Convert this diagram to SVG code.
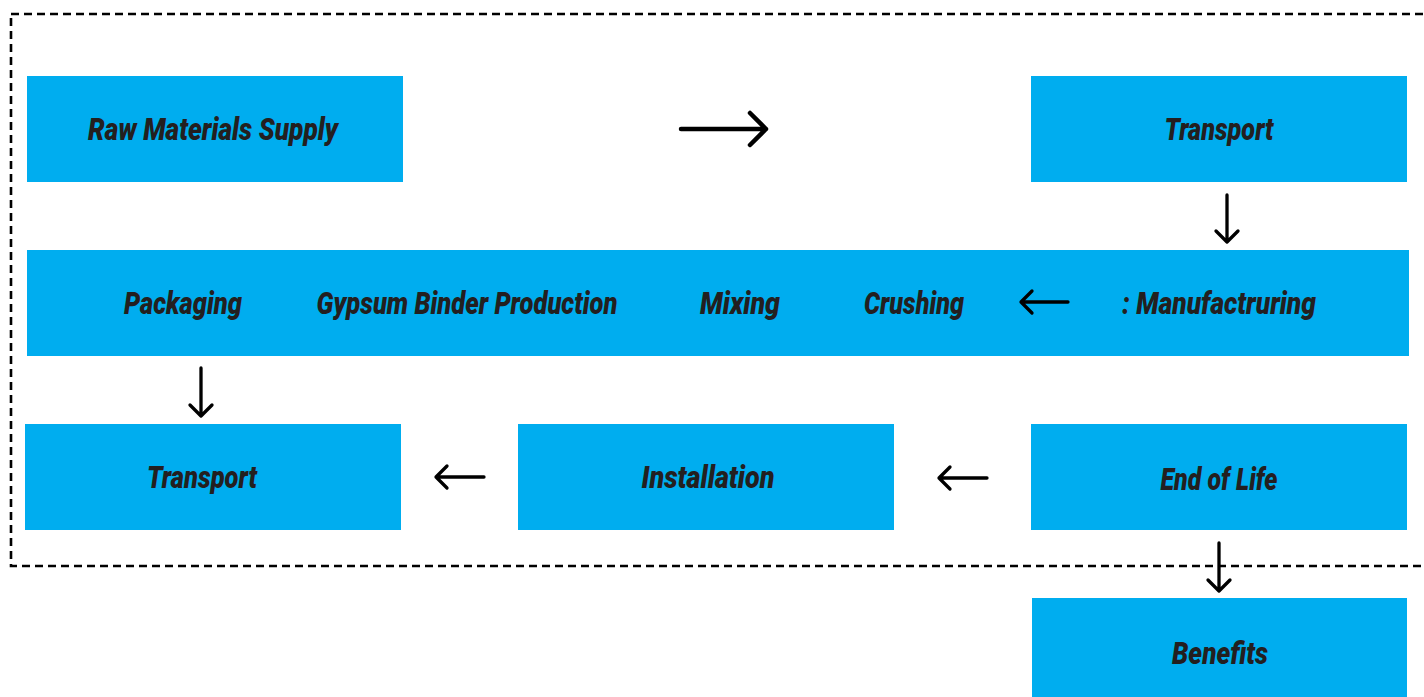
<svg xmlns="http://www.w3.org/2000/svg" width="1424" height="697" viewBox="0 0 1424 697">
  <style>
    .box { fill: #00adef; }
    .lbl { font-family: Roboto, "Liberation Sans", sans-serif; font-weight: 900; font-style: italic; font-size: 31px; fill: #231f20; text-anchor: middle; }
    .arr { fill: none; stroke: #000; stroke-width: 3.3; stroke-linecap: round; stroke-linejoin: round; }
    .arr-big { stroke-width: 4.5; }
    .frame { fill: none; stroke: #000; stroke-width: 2.6; stroke-dasharray: 8 5; }
  </style>

  <rect width="1424" height="697" fill="#ffffff"/>

  <!-- dashed boundary around the production system -->
  <rect class="frame" x="11" y="14" width="1430" height="552"/>

  <g id="raw-materials">
    <rect class="box" x="27" y="76" width="376" height="106"/>
    <text class="lbl" x="213" y="140" textLength="250" lengthAdjust="spacingAndGlyphs">Raw Materials Supply</text>
  </g>

  <g id="transport-in">
    <rect class="box" x="1031" y="76" width="376" height="106"/>
    <text class="lbl" x="1219" y="140" textLength="109" lengthAdjust="spacingAndGlyphs">Transport</text>
  </g>

  <g id="manufacturing">
    <rect class="box" x="27" y="250" width="1382" height="106"/>
    <text class="lbl" x="183" y="314" textLength="118" lengthAdjust="spacingAndGlyphs">Packaging</text>
    <text class="lbl" x="467" y="314" textLength="301" lengthAdjust="spacingAndGlyphs">Gypsum Binder Production</text>
    <text class="lbl" x="740" y="314" textLength="80" lengthAdjust="spacingAndGlyphs">Mixing</text>
    <text class="lbl" x="914" y="314" textLength="100" lengthAdjust="spacingAndGlyphs">Crushing</text>
    <text class="lbl" x="1219" y="314" textLength="194" lengthAdjust="spacingAndGlyphs">: Manufactruring</text>
  </g>

  <g id="transport-out">
    <rect class="box" x="25" y="424" width="376" height="106"/>
    <text class="lbl" x="202" y="488" textLength="110" lengthAdjust="spacingAndGlyphs">Transport</text>
  </g>

  <g id="installation">
    <rect class="box" x="518" y="424" width="376" height="106"/>
    <text class="lbl" x="708" y="488" textLength="133" lengthAdjust="spacingAndGlyphs">Installation</text>
  </g>

  <g id="end-of-life">
    <rect class="box" x="1031" y="424" width="376" height="106"/>
    <text class="lbl" x="1219" y="490" textLength="117" lengthAdjust="spacingAndGlyphs">End of Life</text>
  </g>

  <g id="benefits">
    <rect class="box" x="1032" y="598" width="375" height="99"/>
    <text class="lbl" x="1220" y="664" textLength="96" lengthAdjust="spacingAndGlyphs">Benefits</text>
  </g>

  <g id="connectors">
    <path class="arr arr-big" d="M681 129H766M750 113L766 129L750 145"/>
    <path class="arr" d="M1227 195V242M1216 231L1227 242L1238 231"/>
    <path class="arr" d="M1068 302H1021M1032 291L1021 302L1032 313"/>
    <path class="arr" d="M201 368V416M190 405L201 416L212 405"/>
    <path class="arr" d="M484 477H436M447 466L436 477L447 488"/>
    <path class="arr" d="M987 478H939M950 467L939 478L950 489"/>
    <path class="arr" d="M1219 543V591M1208 580L1219 591L1230 580"/>
  </g>
</svg>
